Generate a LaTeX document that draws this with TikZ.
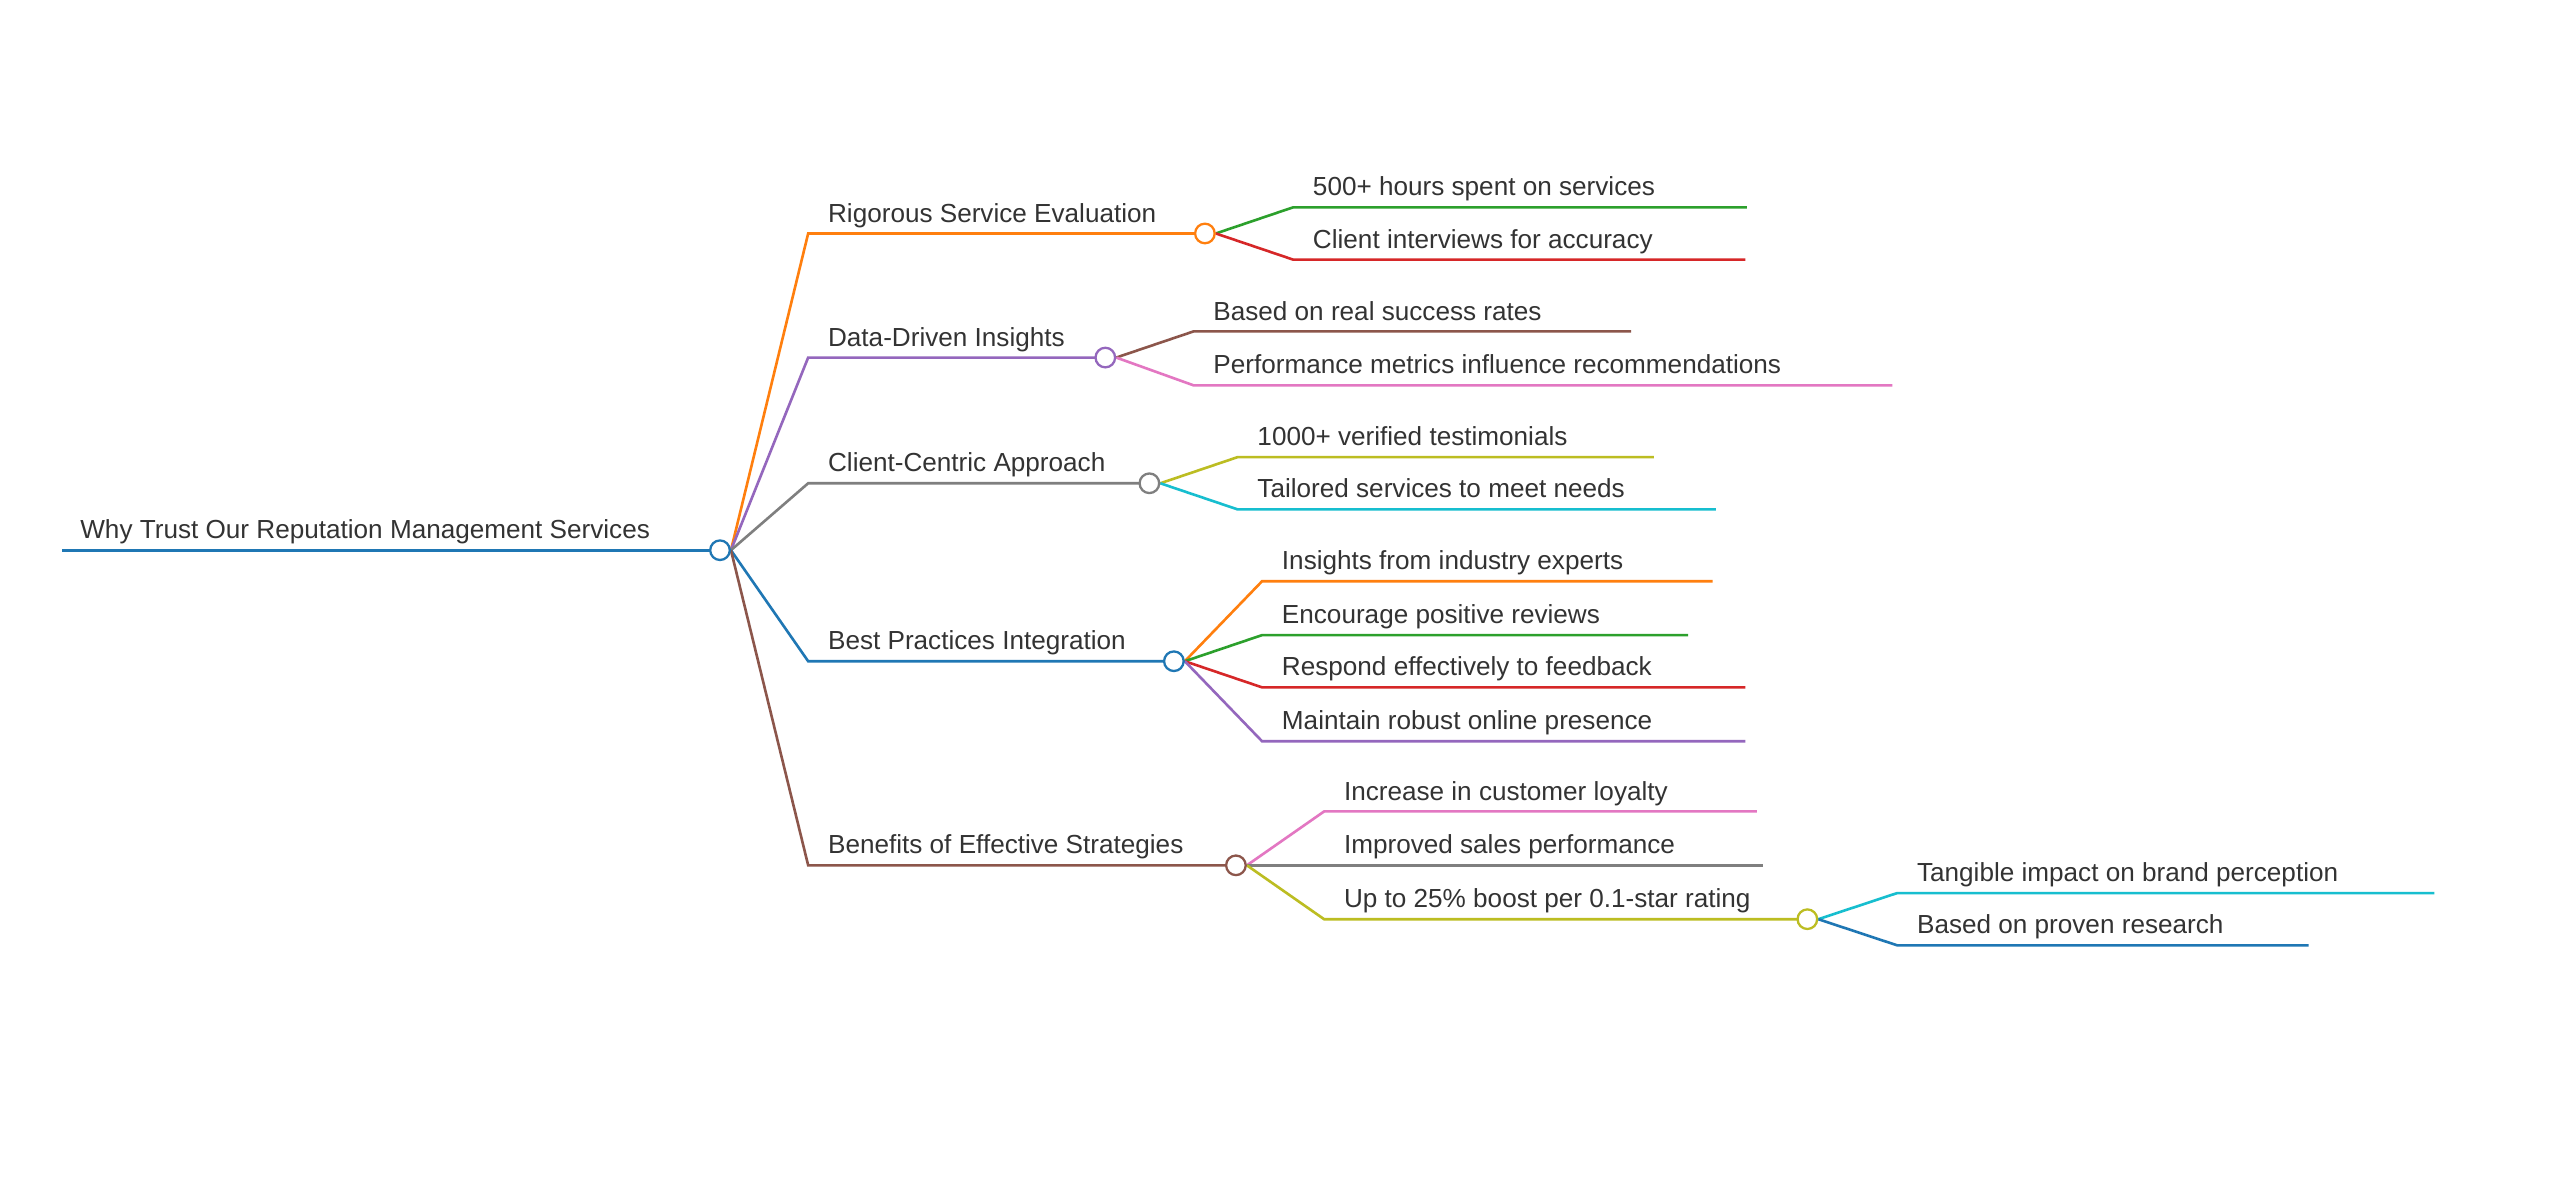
\documentclass[tikz,border=0pt]{standalone}
\usepackage{fontspec}
\setmainfont{Liberation Sans}
\definecolor{cb}{HTML}{1F77B4}\definecolor{co}{HTML}{FF7F0E}\definecolor{cg}{HTML}{2CA02C}
\definecolor{cr}{HTML}{D62728}\definecolor{cp}{HTML}{9467BD}\definecolor{cn}{HTML}{8C564B}
\definecolor{ck}{HTML}{E377C2}\definecolor{cy}{HTML}{7F7F7F}\definecolor{cl}{HTML}{BCBD22}
\definecolor{cc}{HTML}{17BECF}\definecolor{tx}{HTML}{333333}
\tikzset{lbl/.style={anchor=base west,inner sep=0pt,text=tx,font=\fontsize{16}{18}\selectfont},
 ln/.style={line width=1.6pt},
 dot/.style={circle,draw,line width=1.4pt,fill=white,minimum size=12pt,inner sep=0pt}}
% \br{name}{parent}{startx}{endx}{y}{color}{text}
\newcommand\br[7]{%
 \coordinate (#1s) at (#3,-#5);
 \coordinate (#1e) at (#4,-#5);
 \draw[ln,#6] (#2.east) .. controls ($(#2.east)!0.5!(#1s)$ |- #2.east) and ($(#2.east)!0.5!(#1s)$ |- #1s) .. (#1s) -- (#1e);
 \node[lbl] (#1t) at (#3+12,-#5+7) {#7};}
\usetikzlibrary{calc}
\begin{document}
\begin{tikzpicture}[x=1pt,y=1pt]
\useasboundingbox[fill=white] (0,0) rectangle (1568,-726);
\coordinate (r0) at (38,-337);
\draw[ln,cb] (r0) -- (441,-337);
\node[lbl] (rt) at (49,-330) {Why Trust Our Reputation Management Services};
\node[dot,draw=none,fill=none] (R) at (441,-337) {};
\br{a}{R}{495}{738}{143}{co}{Rigorous Service Evaluation}
\br{b}{R}{495}{677}{219}{cp}{Data-Driven Insights}
\br{c}{R}{495}{704}{296}{cy}{Client-Centric Approach}
\br{d}{R}{495}{719}{405}{cb}{Best Practices Integration}
\br{e}{R}{495}{757}{530}{cn}{Benefits of Effective Strategies}
\node[dot,draw=none,fill=none] (A) at (738,-143) {};
\node[dot,draw=none,fill=none] (B) at (677,-219) {};
\node[dot,draw=none,fill=none] (C) at (704,-296) {};
\node[dot,draw=none,fill=none] (D) at (719,-405) {};
\node[dot,draw=none,fill=none] (E) at (757,-530) {};
\br{a1}{A}{792}{1070}{127}{cg}{500+ hours spent on services}
\br{a2}{A}{792}{1069}{159}{cr}{Client interviews for accuracy}
\br{b1}{B}{731}{999}{203}{cn}{Based on real success rates}
\br{b2}{B}{731}{1159}{236}{ck}{Performance metrics influence recommendations}
\br{c1}{C}{758}{1013}{280}{cl}{1000+ verified testimonials}
\br{c2}{C}{758}{1051}{312}{cc}{Tailored services to meet needs}
\br{d1}{D}{773}{1049}{356}{co}{Insights from industry experts}
\br{d2}{D}{773}{1034}{389}{cg}{Encourage positive reviews}
\br{d3}{D}{773}{1069}{421}{cr}{Respond effectively to feedback}
\br{d4}{D}{773}{1069}{454}{cp}{Maintain robust online presence}
\br{e1}{E}{811}{1076}{497}{ck}{Increase in customer loyalty}
\br{e2}{E}{811}{1080}{530}{cy}{Improved sales performance}
\br{e3}{E}{811}{1107}{563}{cl}{Up to 25\% boost per 0.1-star rating}
\node[dot,draw=none,fill=none] (F) at (1107,-563) {};
\br{f1}{F}{1162}{1491}{547}{cc}{Tangible impact on brand perception}
\br{f2}{F}{1162}{1414}{579}{cb}{Based on proven research}
\node[dot,draw=cb] at (R) {};
\node[dot,draw=co] at (A) {};
\node[dot,draw=cp] at (B) {};
\node[dot,draw=cy] at (C) {};
\node[dot,draw=cb] at (D) {};
\node[dot,draw=cn] at (E) {};
\node[dot,draw=cl] at (F) {};
\end{tikzpicture}
\end{document}
